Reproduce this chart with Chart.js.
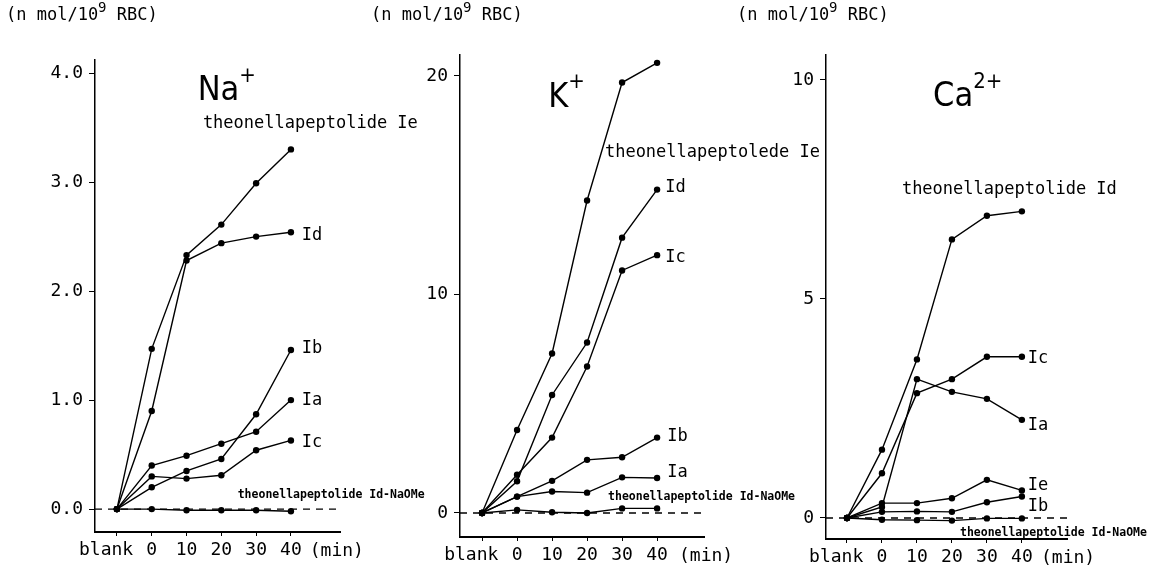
<!DOCTYPE html>
<html>
<head>
<meta charset="utf-8">
<script src="https://cdn.jsdelivr.net/npm/chart.js@4.4.1/dist/chart.umd.min.js"></script>
<style>
  html, body { margin: 0; padding: 0; background: #fff; }
  #wrap { position: relative; width: 1153px; height: 571px; }
  #wrap canvas { position: absolute; left: 0; top: 0; }
</style>
</head>
<body>
<div id="wrap">
  <canvas id="naChart" width="1153" height="571"></canvas>
  <canvas id="kChart" width="1153" height="571"></canvas>
  <canvas id="caChart" width="1153" height="571"></canvas>
</div>
<script>
// x positions: -10 stands for "blank"
const timePoints = [-10, 0, 10, 20, 30, 40];
const timeLabels = ['blank', '0', '10', '20', '30', '40'];

// Na+ (n mol / 10^9 RBC)
const naIe = [0, 1.47, 2.33, 2.61, 2.99, 3.3];
const naId = [0, 0.9, 2.28, 2.44, 2.5, 2.54];
const naIb = [0, 0.2, 0.35, 0.46, 0.87, 1.46];
const naIa = [0, 0.4, 0.49, 0.6, 0.71, 1.0];
const naIc = [0, 0.3, 0.28, 0.31, 0.54, 0.63];
const naNaOMe = [0, 0.0, -0.01, -0.01, -0.01, -0.02];
const naTicks = [0, 1, 2, 3, 4];

// K+
const kIe = [0, 3.8, 7.3, 14.3, 19.7, 20.6];
const kId = [0, 1.45, 5.4, 7.8, 12.6, 14.8];
const kIc = [0, 1.75, 3.45, 6.7, 11.1, 11.8];
const kIb = [0, 0.75, 1.47, 2.43, 2.55, 3.45];
const kIa = [0, 0.75, 0.98, 0.93, 1.63, 1.6];
const kNaOMe = [0, 0.14, 0.03, 0, 0.21, 0.21];
const kTicks = [0, 10, 20];

// Ca2+
const caId = [0, 1.56, 3.62, 6.36, 6.9, 7.0];
const caIc = [0, 1.02, 2.85, 3.17, 3.68, 3.68];
const caIa = [0, 0.25, 3.17, 2.88, 2.72, 2.24];
const caIe = [0, 0.34, 0.34, 0.45, 0.87, 0.63];
const caIb = [0, 0.14, 0.15, 0.14, 0.36, 0.49];
const caNaOMe = [0, -0.04, -0.05, -0.06, -0.01, -0.01];
const caTicks = [0, 5, 10];

const MONO = '"DejaVu Sans Mono", "Liberation Mono", monospace';
const NARROW = '"Liberation Sans Narrow", "DejaVu Sans Condensed", "Noto Sans", sans-serif';
const UNIT_Y = 16;

function pts(vals) {
  return timePoints.map((t, i) => ({ x: t, y: vals[i] }));
}

// draws text runs, some of them raised as superscripts
function drawRuns(ctx, runs, x, y, size, family, supScale) {
  let cx = x;
  runs.forEach(r => {
    const s = r.sup ? Math.round(size * supScale) : size;
    ctx.font = s + 'px ' + family;
    ctx.fillText(r.t, cx, r.sup ? y - size * 0.45 : y);
    cx += ctx.measureText(r.t).width;
  });
}

const notesPlugin = {
  id: 'notes',
  afterDraw(chart, args, opts) {
    const { ctx, chartArea } = chart;
    const xs = chart.scales.x, ys = chart.scales.y;
    ctx.save();
    ctx.fillStyle = '#000';
    ctx.textAlign = 'left';
    ctx.textBaseline = 'middle';
    drawRuns(ctx, [{ t: '(n mol/10' }, { t: '9', sup: true }, { t: ' RBC)' }],
      chartArea.left - 89, UNIT_Y, 17, MONO, 0.8);
    drawRuns(ctx, opts.title, xs.getPixelForValue(opts.titleAt[0]),
      ys.getPixelForValue(opts.titleAt[1]), 34, NARROW, 0.65);
    opts.items.forEach(it => {
      ctx.font = it.small ? 'bold 11.5px ' + MONO : '17px ' + MONO;
      ctx.fillText(it.text, xs.getPixelForValue(it.x), ys.getPixelForValue(it.y));
    });
    ctx.font = '18px ' + MONO;
    ctx.textAlign = 'center';
    ctx.fillText('(min)', xs.getPixelForValue(opts.minAt), chartArea.bottom + 19);
    ctx.restore();
  }
};

function makeChart(id, cfg) {
  const datasets = cfg.series.map(s => ({
    data: pts(s),
    borderColor: '#000',
    backgroundColor: '#000',
    borderWidth: 1.4,
    pointRadius: 3.2,
    pointBorderWidth: 0,
    tension: 0
  }));
  datasets.push({
    data: [{ x: cfg.xMin, y: 0 }, { x: cfg.xMax, y: 0 }],
    borderColor: '#000',
    borderWidth: 1.4,
    borderDash: [7, 6],
    pointRadius: 0
  });
  return new Chart(document.getElementById(id), {
    type: 'line',
    data: { datasets },
    plugins: [notesPlugin],
    options: {
      responsive: false,
      animation: false,
      events: [],
      layout: { padding: cfg.padding },
      plugins: {
        legend: { display: false },
        tooltip: { enabled: false },
        notes: { items: cfg.notes, title: cfg.title, titleAt: cfg.titleAt, minAt: cfg.minAt }
      },
      scales: {
        x: {
          type: 'linear',
          min: cfg.xMin,
          max: cfg.xMax,
          afterBuildTicks: s => { s.ticks = timePoints.map(v => ({ value: v })); },
          afterFit: s => { s.height = 30; },
          ticks: {
            // the "blank" label sits a little left of its tick
            callback: v => {
              const i = timePoints.indexOf(v);
              return i === 0 ? timeLabels[i] + '  ' : timeLabels[i];
            },
            color: '#000',
            font: { family: MONO, size: 18 },
            padding: 4,
            maxRotation: 0,
            autoSkip: false
          },
          grid: { drawOnChartArea: false, tickLength: 4, color: '#000', lineWidth: 1 },
          border: { color: '#000', width: 2 }
        },
        y: {
          min: cfg.yMin,
          max: cfg.yMax,
          afterBuildTicks: s => { s.ticks = cfg.yTicks.map(v => ({ value: v })); },
          afterFit: s => { s.width = 60; },
          ticks: {
            callback: cfg.yFormat,
            color: '#000',
            font: { family: MONO, size: 18 },
            padding: 6
          },
          grid: { drawOnChartArea: false, tickLength: 6, color: '#000', lineWidth: 1 },
          border: { color: '#000', width: 1.5 }
        }
      }
    }
  });
}

makeChart('naChart', {
  series: [naIe, naId, naIb, naIa, naIc, naNaOMe],
  xMin: -16.3, xMax: 54.1, yMin: -0.21, yMax: 4.12, yTicks: naTicks,
  yFormat: v => v.toFixed(1),
  padding: { left: 35, right: 813, top: 60, bottom: 9 },
  title: [{ t: 'Na' }, { t: '+', sup: true }], titleAt: [13.2, 3.83], minAt: 53.2,
  notes: [
    { text: 'theonellapeptolide Ie', x: 14.7, y: 3.54 },
    { text: 'Id', x: 43.1, y: 2.51 },
    { text: 'Ib', x: 43.1, y: 1.47 },
    { text: 'Ia', x: 43.1, y: 1.0 },
    { text: 'Ic', x: 43.1, y: 0.61 },
    { text: 'theonellapeptolide Id-NaOMe', x: 24.7, y: 0.13, small: true }
  ]
});

makeChart('kChart', {
  series: [kIe, kId, kIc, kIb, kIa, kNaOMe],
  xMin: -16.3, xMax: 53.4, yMin: -1.1, yMax: 20.96, yTicks: kTicks,
  yFormat: v => String(v),
  padding: { left: 400, right: 449, top: 55, bottom: 4 },
  title: [{ t: 'K' }, { t: '+', sup: true }], titleAt: [8.9, 19.0], minAt: 54,
  notes: [
    { text: 'theonellapeptolede Ie', x: 25.1, y: 16.5 },
    { text: 'Id', x: 42.3, y: 14.9 },
    { text: 'Ic', x: 42.3, y: 11.7 },
    { text: 'Ib', x: 42.9, y: 3.48 },
    { text: 'Ia', x: 42.9, y: 1.83 },
    { text: 'theonellapeptolide Id-NaOMe', x: 26, y: 0.73, small: true }
  ]
});

makeChart('caChart', {
  series: [caId, caIc, caIa, caIe, caIb, caNaOMe],
  xMin: -16, xMax: 52.9, yMin: -0.48, yMax: 10.57, yTicks: caTicks,
  yFormat: v => String(v),
  padding: { left: 766, right: 86, top: 55, bottom: 2 },
  title: [{ t: 'Ca' }, { t: '2+', sup: true }], titleAt: [14.6, 9.6], minAt: 53.2,
  notes: [
    { text: 'theonellapeptolide Id', x: 5.7, y: 7.49 },
    { text: 'Ic', x: 41.7, y: 3.63 },
    { text: 'Ia', x: 41.7, y: 2.12 },
    { text: 'Ie', x: 41.7, y: 0.73 },
    { text: 'Ib', x: 41.7, y: 0.25 },
    { text: 'theonellapeptolide Id-NaOMe', x: 22.3, y: -0.34, small: true }
  ]
});
</script>
</body>
</html>
